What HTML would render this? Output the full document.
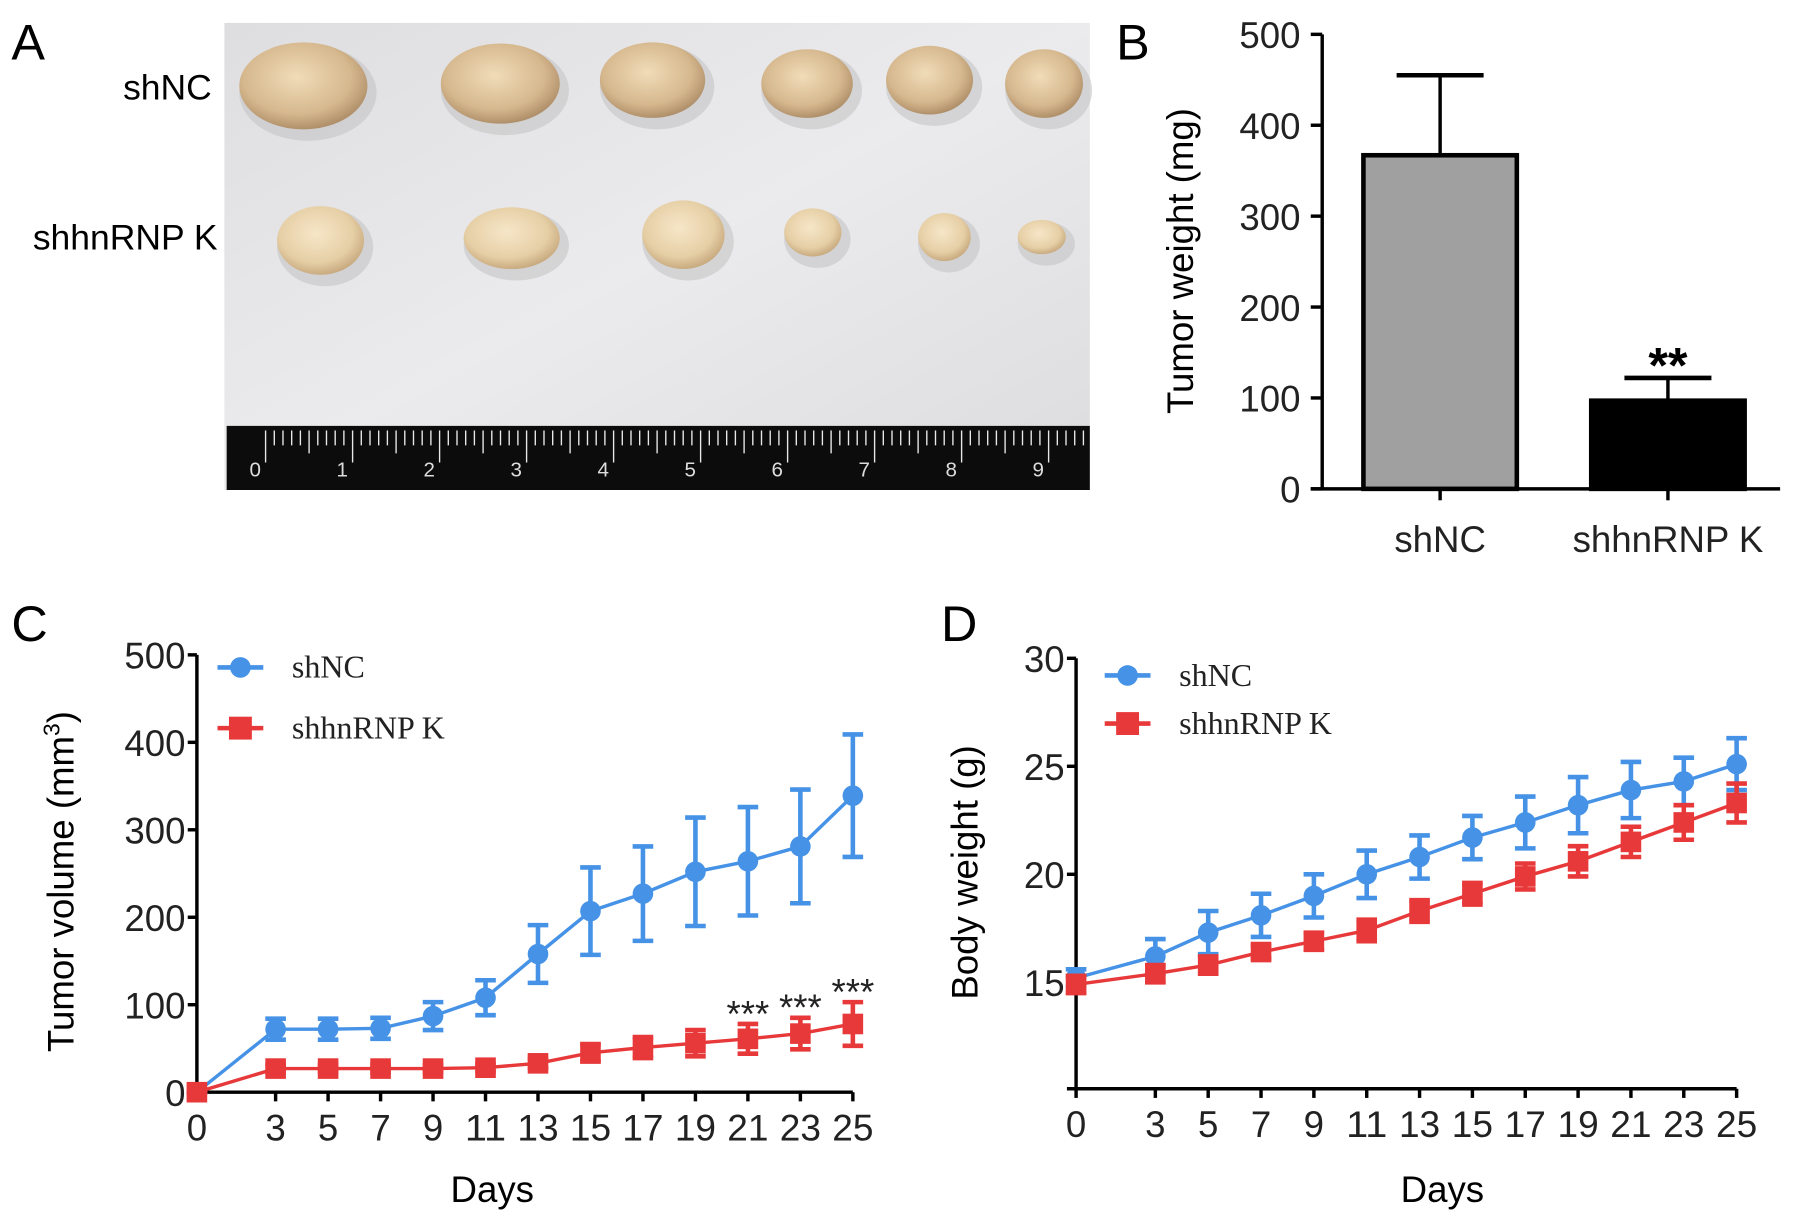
<!DOCTYPE html>
<html><head><meta charset="utf-8">
<style>
html,body{margin:0;padding:0;background:#fff;width:1795px;height:1225px;overflow:hidden}
svg{display:block}
text{font-family:"Liberation Sans",Arial,sans-serif}
.serif{font-family:"Liberation Serif","Times New Roman",serif}
</style></head>
<body>
<svg id="fig" width="1795" height="1225" viewBox="0 0 1568 1070" preserveAspectRatio="none" xmlns="http://www.w3.org/2000/svg">
<defs>
<linearGradient id="paper" x1="0" y1="0" x2="1" y2="1">
<stop offset="0" stop-color="#dedee0"/><stop offset="0.5" stop-color="#ebebed"/><stop offset="1" stop-color="#dcdcde"/>
</linearGradient>
<radialGradient id="tum" cx="0.45" cy="0.4" r="0.6">
<stop offset="0" stop-color="#f0dcb8"/><stop offset="0.7" stop-color="#d6b88e"/><stop offset="1" stop-color="#b0906a"/>
</radialGradient>
<radialGradient id="tum2" cx="0.45" cy="0.4" r="0.6">
<stop offset="0" stop-color="#f6e6c8"/><stop offset="0.7" stop-color="#e6cfa6"/><stop offset="1" stop-color="#c9ab80"/>
</radialGradient>
</defs>

<g>
<text x="10" y="52" font-size="44">A</text>
<text x="185" y="87" font-size="31" text-anchor="end">shNC</text>
<text x="190" y="218" font-size="31" text-anchor="end">shhnRNP K</text>
<rect x="196" y="20" width="756" height="408" fill="url(#paper)"/>
<g id="tumors"></g>
<rect x="198" y="372" width="754" height="56" fill="#0c0c0c"/>
<g id="ruler"></g>
</g>

<g id="panelB">
<text x="975" y="52" font-size="44">B</text>
<text transform="translate(1042,228) rotate(-90)" font-size="32" text-anchor="middle">Tumor weight (mg)</text>
</g>

<g id="panelC">
<text x="10" y="560" font-size="44">C</text>
<text transform="translate(64,770) rotate(-90)" font-size="32" text-anchor="middle">Tumor volume (mm<tspan font-size="20" dy="-12">3</tspan><tspan dy="12">)</tspan></text>
<text x="430" y="1050" font-size="32" text-anchor="middle">Days</text>
</g>

<g id="panelD">
<text x="822" y="560" font-size="44">D</text>
<text transform="translate(854,762) rotate(-90)" font-size="32" text-anchor="middle">Body weight (g)</text>
<text x="1260" y="1050" font-size="32" text-anchor="middle">Days</text>
</g>
</svg>

<script>
// ---- Panel B data ----
const bCategories = ["shNC", "shhnRNP K"];
const bMeans = [367, 97];
const bErrors = [88, 25];
const bTicks = [0, 100, 200, 300, 400, 500];

// ---- Panel C data ----
const days = [0, 3, 5, 7, 9, 11, 13, 15, 17, 19, 21, 23, 25];
const cShNC = [0, 72, 72, 73, 87, 108, 158, 207, 227, 252, 264, 281, 339];
const cShNCErr = [0, 12, 12, 12, 16, 20, 33, 50, 54, 62, 62, 65, 70];
const cShK = [0, 27, 27, 27, 27, 28, 33, 45, 51, 56, 61, 67, 78];
const cShKErr = [0, 4, 4, 4, 4, 4, 5, 10, 12, 15, 17, 18, 25];
const cTicks = [0, 100, 200, 300, 400, 500];
const cStarDays = [21, 23, 25];

// ---- Panel D data ----
const dShNC = [15.2, 16.2, 17.3, 18.1, 19.0, 20.0, 20.8, 21.7, 22.4, 23.2, 23.9, 24.3, 25.1];
const dShNCErr = [0.4, 0.8, 1.0, 1.0, 1.0, 1.1, 1.0, 1.0, 1.2, 1.3, 1.3, 1.1, 1.2];
const dShK = [14.9, 15.4, 15.8, 16.4, 16.9, 17.4, 18.3, 19.1, 19.9, 20.6, 21.5, 22.4, 23.3];
const dShKErr = [0.4, 0.4, 0.4, 0.3, 0.4, 0.5, 0.5, 0.5, 0.6, 0.7, 0.7, 0.8, 0.9];
const dTicks = [15, 20, 25, 30];

const NS = "http://www.w3.org/2000/svg";
function mk(parent, tag, attrs, txt) {
  const e = document.createElementNS(NS, tag);
  for (const k in attrs) e.setAttribute(k, attrs[k]);
  if (txt !== undefined) e.textContent = txt;
  parent.appendChild(e);
  return e;
}

const tumors = document.getElementById('tumors');
const tumorSpec = [[265,75,56,38,1],[437,73,52,35,1],[570,70,46,33,1],[705,73,40,30,1],[812,70,38,30,1],[912,73,34,30,1],
  [280,210,38,30,2],[447,208,42,27,2],[597,205,36,30,2],[710,203,25,21,2],[825,207,23,21,2],[910,207,21,15,2]];
tumorSpec.forEach(t => {
  mk(tumors, 'ellipse', {cx:t[0]+4, cy:t[1]+6, rx:t[2]+4, ry:t[3]+4, fill:'#c4c4c6', opacity:0.6});
  const e = mk(tumors, 'ellipse', {cx:t[0], cy:t[1], rx:t[2], ry:t[3], fill: t[4]===1?'url(#tum)':'url(#tum2)'});
  
  
});
const ruler = document.getElementById('ruler');
for (let i = 0; i <= 138; i++) {
  const x = 232 + i * 7.6;
  if (x > 950) break;
  const h = i % 10 === 0 ? 28 : (i % 5 === 0 ? 20 : 13);
  mk(ruler, 'line', {x1:x, y1:376, x2:x, y2:376+h, stroke:'#e8e8e8', 'stroke-width':1.2});
  if (i % 10 === 0) mk(ruler, 'text', {x:x-4, y:416, 'font-size':18, fill:'#ddd', 'text-anchor':'end'}, String(i/10));
}

(function(){
  const g = document.getElementById('panelB');
  const x0 = 1155, xEnd = 1555, y0 = 427, yTop = 30;
  const ys = v => y0 - (v / 500) * (y0 - yTop);
  const cx = [1258, 1457];
  const bw = 134;
  const fills = ['#a0a0a0', '#000'];
  mk(g, 'line', {x1:x0, y1:yTop, x2:x0, y2:y0, stroke:'#000', 'stroke-width':3});
  mk(g, 'line', {x1:1145, y1:y0, x2:xEnd, y2:y0, stroke:'#000', 'stroke-width':3});
  bTicks.forEach(t => {
    mk(g, 'line', {x1:1145, y1:ys(t), x2:x0, y2:ys(t), stroke:'#000', 'stroke-width':3});
    const tl = mk(g, 'text', {x:1136, y:ys(t)+12, 'font-size':32, 'text-anchor':'end', fill:'#222'}, String(t));
    
    
  });
  bCategories.forEach((c, i) => {
    const top = ys(bMeans[i]);
    const eb = mk(g, 'line', {x1:cx[i], y1:ys(bMeans[i] + bErrors[i]), x2:cx[i], y2:top, stroke:'#000', 'stroke-width':3});
    
    
    mk(g, 'line', {x1:cx[i]-38, y1:ys(bMeans[i] + bErrors[i]), x2:cx[i]+38, y2:ys(bMeans[i] + bErrors[i]), stroke:'#000', 'stroke-width':4});
    const r = mk(g, 'rect', {x:cx[i]-bw/2, y:top, width:bw, height:y0-top, fill:fills[i], stroke:'#000', 'stroke-width':4});
    
    
    mk(g, 'line', {x1:cx[i], y1:y0, x2:cx[i], y2:y0+10, stroke:'#000', 'stroke-width':3});
    const cl = mk(g, 'text', {x:cx[i], y:482, 'font-size':32, 'text-anchor':'middle', fill:'#222'}, c);
    
    
  });
  const st = mk(g, 'text', {x:cx[1], y:ys(bMeans[1]+bErrors[1])+4, 'font-size':44, 'text-anchor':'middle', 'font-weight':'bold'}, '**');
  
  
})();

function lineChart(gid, opt) {
  const g = document.getElementById(gid);
  const xs = d => opt.x0 + d * (opt.x25 - opt.x0) / 25;
  const ys = v => opt.yBase - (v - opt.vBase) * opt.pxPerUnit;
  mk(g, 'line', {x1:opt.x0, y1:ys(opt.vMax), x2:opt.x0, y2:opt.axisY, stroke:'#000', 'stroke-width':3});
  mk(g, 'line', {x1:opt.x0-8, y1:opt.axisY, x2:opt.x25, y2:opt.axisY, stroke:'#000', 'stroke-width':3});
  opt.ticks.forEach(t => {
    mk(g, 'line', {x1:opt.x0-8, y1:ys(t), x2:opt.x0, y2:ys(t), stroke:'#000', 'stroke-width':3});
    const tl = mk(g, 'text', {x:opt.x0-10, y:ys(t)+12, 'font-size':32, 'text-anchor':'end', fill:'#222'}, String(t));
    
    
  });
  days.forEach(d => {
    mk(g, 'line', {x1:xs(d), y1:opt.axisY, x2:xs(d), y2:opt.axisY+8, stroke:'#000', 'stroke-width':3});
    const tl = mk(g, 'text', {x:xs(d), y:opt.axisY+42, 'font-size':32, 'text-anchor':'middle', fill:'#222'}, String(d));
    if (d >= 10) { tl.setAttribute('textLength', 36); tl.setAttribute('lengthAdjust', 'spacingAndGlyphs'); }
    
    
  });
  opt.series.forEach(s => {
    const pts = days.map((d, i) => xs(d) + ',' + ys(s.vals[i])).join(' ');
    const pl = mk(g, 'polyline', {points:pts, fill:'none', stroke:s.color, 'stroke-width':3});
    
    
    days.forEach((d, i) => {
      const x = xs(d), v = s.vals[i], e = s.err[i];
      const eg = mk(g, 'g', {stroke:s.color, 'stroke-width':4});
      
      
      mk(eg, 'line', {x1:x, y1:ys(v+e), x2:x, y2:ys(v-e)});
      mk(eg, 'line', {x1:x-9, y1:ys(v+e), x2:x+9, y2:ys(v+e)});
      mk(eg, 'line', {x1:x-9, y1:ys(v-e), x2:x+9, y2:ys(v-e)});
      let m;
      if (s.shape === 'circle') m = mk(g, 'circle', {cx:x, cy:ys(v), r:9, fill:s.color});
      else m = mk(g, 'rect', {x:x-9, y:ys(v)-9, width:18, height:18, fill:s.color});
      
      
    });
  });
  opt.series.forEach((s, i) => {
    const ly = opt.legY + i * opt.legGap;
    const lg = mk(g, 'g', {});
    
    
    mk(lg, 'line', {x1:opt.legX-20, y1:ly, x2:opt.legX+20, y2:ly, stroke:s.color, 'stroke-width':4});
    if (s.shape === 'circle') mk(lg, 'circle', {cx:opt.legX, cy:ly, r:9, fill:s.color});
    else mk(lg, 'rect', {x:opt.legX-10, y:ly-10, width:20, height:20, fill:s.color});
    mk(lg, 'text', {x:opt.legX+45, y:ly+9, 'font-size':28, class:'serif', fill:'#222'}, s.name);
  });
  return {xs, ys};
}

const C = lineChart('panelC', {x0:172, x25:745, yBase:954, vBase:0, pxPerUnit:(954-572)/500, vMax:500, axisY:954,
  ticks:cTicks, legX:210, legY:583, legGap:53,
  series:[{key:'shnc', name:'shNC', vals:cShNC, err:cShNCErr, color:'#4592e6', shape:'circle'},
          {key:'shhnrnpk', name:'shhnRNP K', vals:cShK, err:cShKErr, color:'#e8393a', shape:'square'}]});
cStarDays.forEach(d => {
  const i = days.indexOf(d);
  const t = mk(document.getElementById('panelC'), 'text', {x:C.xs(d), y:C.ys(cShK[i]+cShKErr[i])+2, 'font-size':32, 'text-anchor':'middle', fill:'#222'}, '***');
  
  
});

lineChart('panelD', {x0:940, x25:1517, yBase:858, vBase:15, pxPerUnit:(858-575)/15, vMax:30, axisY:951,
  ticks:dTicks, legX:985, legY:590, legGap:42,
  series:[{key:'shnc', name:'shNC', vals:dShNC, err:dShNCErr, color:'#4592e6', shape:'circle'},
          {key:'shhnrnpk', name:'shhnRNP K', vals:dShK, err:dShKErr, color:'#e8393a', shape:'square'}]});
</script>
</body></html>
